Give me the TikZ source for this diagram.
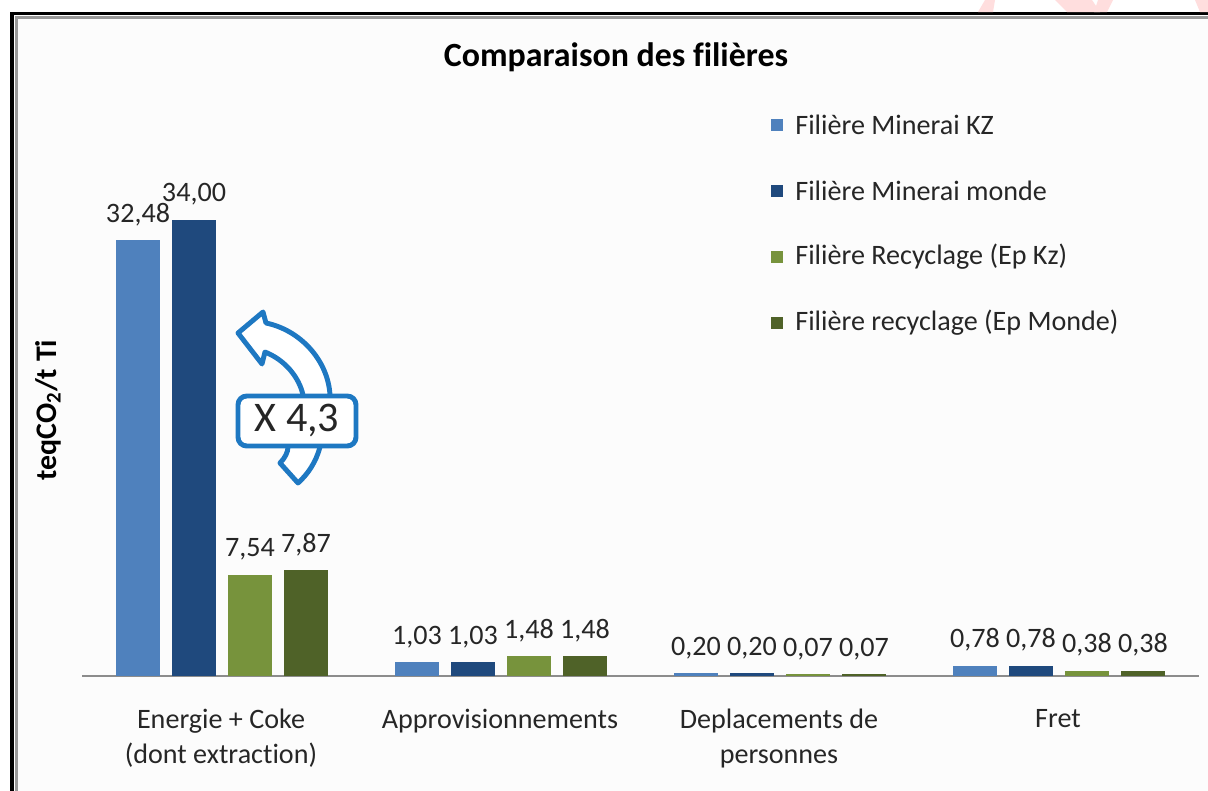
\documentclass[tikz,border=0pt]{standalone}
\usepackage{fontspec}
\setmainfont{Carlito}[Ligatures=NoCommon]
\usetikzlibrary{calc}

\definecolor{serA}{HTML}{4F81BD}   % Minerai KZ
\definecolor{serB}{HTML}{1F497D}   % Minerai monde
\definecolor{serC}{HTML}{77933C}   % Recyclage (Ep Kz)
\definecolor{serD}{HTML}{4F6228}   % recyclage (Ep Monde)
\definecolor{iconblue}{HTML}{1E78C2}
\definecolor{axisgray}{HTML}{8C8C8C}

\begin{document}
\begin{tikzpicture}[x=0.02cm, y=-0.02cm,
  lbl/.style={inner sep=0pt, text=black!85, font=\fontsize{16}{19.8}\selectfont},
  vlbl/.style={lbl, anchor=base},
  catlbl/.style={lbl, align=center, anchor=north},
  legbox/.style={fill=#1, draw=none},
]

%─────────────
% Controls
%─────────────
\def\ppu{13.42}      % pixels per teqCO2
\def\basey{676}      % y of the category axis
\def\groupzero{116}  % left edge of the first bar
\def\groupstep{279}  % distance between groups
\def\barstep{56}     % distance between bars in a group
\def\barw{44}        % bar width

\useasboundingbox (0,0) rectangle (1208,791);

%─────────────
% Frame
%─────────────
\fill[white] (0,0) rectangle (1208,791);
\fill[black!1] (15,16) rectangle (1208,791);
\draw[black!40, line width=1.2pt] (16.5,791) -- (16.5,17.5) -- (1208,17.5);
\draw[black, line width=1.8pt] (12,791) -- (12,13.5) -- (1208,13.5);
\fill[red!13] (978,12) -- (993,12) -- (995,0) -- (985,0) -- cycle;
\fill[red!13] (1055,0) -- (1092,0) -- (1100,12) -- (1067,12) -- cycle;
\fill[red!13] (1098,0) -- (1113,0) -- (1107,12) -- (1094,12) -- cycle;
\fill[red!13] (1195,0) -- (1208,0) -- (1208,12) -- (1200,12) -- cycle;

%─────────────
% Title and axis
%─────────────
\node[inner sep=0pt, font=\fontsize{19.3}{22}\selectfont\bfseries] (title) at (616,57) {Comparaison des filières};
\node[inner sep=0pt, rotate=90, font=\fontsize{17}{20}\selectfont\bfseries] (ylabel) at (48,410) {teqCO\textsubscript{2}/t Ti};
\coordinate (axisL) at (82,\basey);
\coordinate (axisR) at (1199,\basey);
\draw[axisgray, line width=0.9pt] (axisL) -- (axisR);

%───────────────────────────────────────────────────────
% One bar: #1 = group, #2 = series (A..D), #3 = index in group,
%          #4 = value, #5 = printed value
%───────────────────────────────────────────────────────
\newcommand{\drawBar}[5]{%
  \pgfmathsetmacro{\xl}{\groupzero + #1*\groupstep + #3*\barstep}
  \pgfmathsetmacro{\ytop}{\basey - max(#4*\ppu, 1.8)}
  \fill[ser#2] (\xl,\basey) rectangle ({\xl+\barw},\ytop);
  \node[vlbl] (v#1#2) at ({\xl+\barw/2},{\ytop-18}) {#5};
}

% Energie + Coke
\drawBar{0}{A}{0}{32.48}{32,48}
\drawBar{0}{B}{1}{34.00}{34,00}
\drawBar{0}{C}{2}{7.54}{7,54}
\drawBar{0}{D}{3}{7.87}{7,87}

% Approvisionnements
\drawBar{1}{A}{0}{1.03}{1,03}
\drawBar{1}{B}{1}{1.03}{1,03}
\drawBar{1}{C}{2}{1.48}{1,48}
\drawBar{1}{D}{3}{1.48}{1,48}

% Deplacements de personnes
\drawBar{2}{A}{0}{0.20}{0,20}
\drawBar{2}{B}{1}{0.20}{0,20}
\drawBar{2}{C}{2}{0.07}{0,07}
\drawBar{2}{D}{3}{0.07}{0,07}

% Fret
\drawBar{3}{A}{0}{0.78}{0,78}
\drawBar{3}{B}{1}{0.78}{0,78}
\drawBar{3}{C}{2}{0.38}{0,38}
\drawBar{3}{D}{3}{0.38}{0,38}

%─────────────
% Category labels
%─────────────
\node[catlbl] (cat0) at (221,709) {Energie + Coke\\(dont extraction)};
\node[catlbl] (cat1) at (500,709) {Approvisionnements};
\node[catlbl] (cat2) at (779,709) {Deplacements de\\personnes};
\node[catlbl] (cat3) at (1058,709) {Fret};

%─────────────
% Legend
%─────────────
\foreach \s/\t [count=\i from 0] in {A/Filière Minerai KZ, B/Filière Minerai monde,
    C/Filière Recyclage (Ep Kz), D/Filière recyclage (Ep Monde)} {
  \pgfmathsetmacro{\ly}{125 + \i*66}
  \fill[legbox=ser\s] (771,\ly-6) rectangle (783,\ly+6);
  \node[lbl, anchor=west] (leg\s) at (795,\ly) {\t};
}

%─────────────
% Factor icon
%─────────────
\draw[iconblue, line width=2.8pt, line join=round, fill=white]
  (266,323) .. controls (300,330) and (328,360) .. (330,395)
  -- (320,447) .. controls (316,462) and (308,474) .. (298,483)
  -- (280,463) .. controls (285,458) and (288,452) .. (288,447)
  -- (303,395) .. controls (299,377) and (285,360) .. (265,352)
  -- (262,364) -- (238,333) -- (263,312) -- cycle;
\node[draw=iconblue, line width=2.8pt, fill=white, rounded corners=5pt,
  minimum width=118*0.02cm, minimum height=50*0.02cm, inner sep=0pt,
  text=black!85, font=\fontsize{24}{28}\selectfont] (factor) at (297,421) {X 4,3};

\end{tikzpicture}
\end{document}
